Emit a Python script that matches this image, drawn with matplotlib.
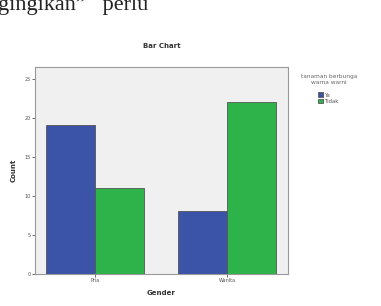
import numpy as np
import matplotlib
matplotlib.use("Agg")
import matplotlib.pyplot as plt

genders = ["Pria", "Wanita"]
series = ["Ya", "Tidak"]
ya_counts = [19, 8]
tidak_counts = [11, 22]
yticks = [0, 5, 10, 15, 20, 25]

colors = ["#3c54a8", "#2db34a"]

fig = plt.figure(figsize=(3.81, 3.06), dpi=100)
ax = fig.add_axes([0.092, 0.106, 0.664, 0.675])
ax.set_facecolor("#f0f0f0")

x = np.arange(len(genders))
w = 0.371
ax.bar(x - w / 2, ya_counts, w, color=colors[0], edgecolor="#555555", linewidth=0.6, label=series[0])
ax.bar(x + w / 2, tidak_counts, w, color=colors[1], edgecolor="#555555", linewidth=0.6, label=series[1])

ax.set_xlim(-0.455, 1.462)
ax.set_ylim(0, 26.5)
ax.set_xticks(x)
ax.set_xticklabels(genders, fontsize=3.5, color="#555555")
ax.set_yticks(yticks)
ax.set_yticklabels([str(t) for t in yticks], fontsize=3.5, color="#555555")
ax.tick_params(length=2, width=0.6, color="#555555", pad=1)
for s in ax.spines.values():
    s.set_color("#999999")
    s.set_linewidth(0.8)

ax.set_xlabel("Gender", fontsize=5, fontweight="bold", color="#333333", labelpad=5)
ax.set_ylabel("Count", fontsize=5, fontweight="bold", color="#333333", labelpad=6)
ax.set_title("Bar Chart", fontsize=5, fontweight="bold", color="#333333", pad=14)

leg = ax.legend(title="tanaman berbunga\nwarna warni", loc="upper left",
                bbox_to_anchor=(1.035, 0.985), frameon=False, fontsize=3.8,
                title_fontsize=4.2, handlelength=1.0, handleheight=1.0,
                handletextpad=0.3, borderpad=0.2, labelspacing=0.2)
leg.get_title().set_color("#666666")
leg.get_title().set_multialignment("center")
leg.get_title().set_linespacing(1.4)
leg._legend_box.align = "center"
leg._legend_box.sep = 5
for t in leg.get_texts():
    t.set_color("#555555")

fig.text(-0.005, 0.968, "gingikan\u201d   perlu", fontsize=16, family="Liberation Serif",
         color="#222222", va="baseline", ha="left")

fig.savefig("out.png", dpi=100, facecolor="white")
